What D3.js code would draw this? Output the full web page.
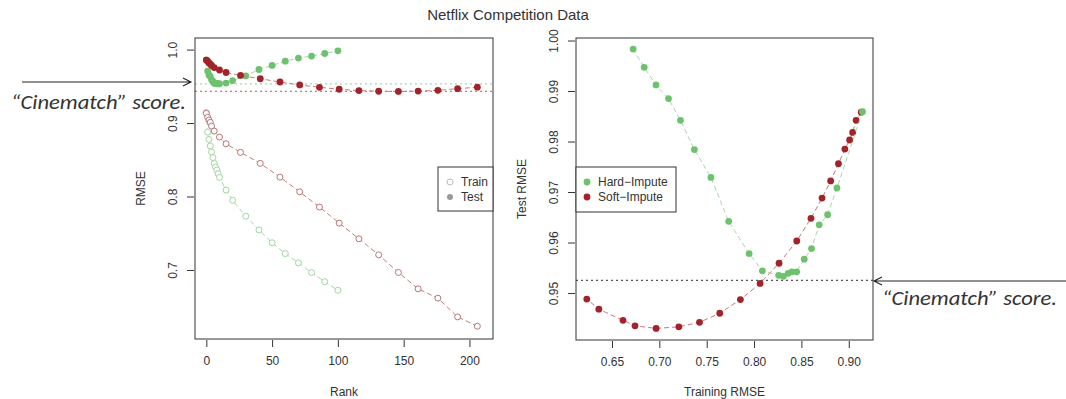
<!DOCTYPE html>
<html>
<head>
<meta charset="utf-8">
<script src="https://cdn.jsdelivr.net/npm/d3@7"></script>
<style>
  body { margin: 0; background: #fff; }
  svg text { font-family: "Liberation Sans", Arial, sans-serif; fill: #333; }
</style>
</head>
<body>
<div id="chart"></div>
<script>
// Hard-Impute (green) and Soft-Impute (red): rank, training RMSE, test RMSE
const hardRank = [0, 1, 2, 3, 4, 5, 6, 7, 8, 9, 10, 15, 20, 30, 40, 50, 60, 70, 80, 90, 100];
const hardTrain = [0.9145, 0.8875, 0.8777, 0.8688, 0.8607, 0.853, 0.845, 0.840, 0.836, 0.831, 0.826,
    0.8088, 0.7948, 0.7732, 0.7545, 0.737, 0.7223, 0.7097, 0.6965, 0.684, 0.6723];
const hardTest = [0.9859, 0.9708, 0.9655, 0.9635, 0.9588, 0.9567, 0.9542, 0.9542, 0.9539, 0.9533, 0.9535,
    0.9544, 0.9578, 0.9642, 0.9729, 0.9784, 0.9842, 0.9885, 0.9912, 0.9947, 0.9983];

const softRank = [0, 1, 2, 3, 4, 6, 10, 15, 26, 41, 56, 71, 86, 101, 116, 131, 146, 161, 176, 191, 206];
const softTrain = [0.9132, 0.9078, 0.9041, 0.9009, 0.8959, 0.8891, 0.8809, 0.8718, 0.8601, 0.8451, 0.8264,
    0.8064, 0.7856, 0.7638, 0.7424, 0.7206, 0.6966, 0.6743, 0.6616, 0.6361, 0.6234];
const softTest = [0.9858, 0.9842, 0.9818, 0.9803, 0.9785, 0.9756, 0.9722, 0.9688, 0.9648, 0.9603, 0.9559,
    0.9519, 0.9487, 0.946, 0.9442, 0.9433, 0.943, 0.9435, 0.9446, 0.9468, 0.9488];

const cinematch = 0.9525;

const leftXTicks = [0, 50, 100, 150, 200];
const leftYTicks = [0.7, 0.8, 0.9, 1.0];
const rightXTicks = [0.65, 0.70, 0.75, 0.80, 0.85, 0.90];
const rightYTicks = [0.95, 0.96, 0.97, 0.98, 0.99, 1.00];

const col = {
    hard: "#6ec26e", soft: "#a3232a",
    hardOpen: "#a3d6a3", softOpen: "#b87676",
    hardLine: "#a8d8a8", softLine: "#c47c7c"
};

const svg = d3.select("#chart").append("svg")
    .attr("width", 1066)
    .attr("height", 399);

svg.append("text")
    .attr("x", 508).attr("y", 20)
    .attr("text-anchor", "middle")
    .style("font-size", "15px")
    .text("Netflix Competition Data");

function panel(box, xDomain, yDomain, xTicks, yTicks, xFmt, yFmt, xLabel, yLabel) {
    const x = d3.scaleLinear().domain(xDomain).range([box.left, box.right]);
    const y = d3.scaleLinear().domain(yDomain).range([box.bottom, box.top]);
    const g = svg.append("g");

    const xAxis = g.append("g")
        .attr("transform", `translate(0,${box.bottom + 1})`)
        .call(d3.axisBottom(x).tickValues(xTicks).tickFormat(xFmt).tickSize(7).tickPadding(9));
    xAxis.select(".domain").remove();
    xAxis.selectAll("text").style("font-size", "12px").style("font-family", null).attr("fill", "#333");
    xAxis.selectAll("line").attr("stroke", "#333");

    const yAxis = g.append("g")
        .attr("transform", `translate(${box.left - 1},0)`)
        .call(d3.axisLeft(y).tickValues(yTicks).tickFormat(yFmt).tickSize(7));
    yAxis.select(".domain").remove();
    yAxis.selectAll("line").attr("stroke", "#333");
    yAxis.selectAll("text")
        .attr("x", null).attr("dy", null)
        .attr("transform", "translate(-21,0) rotate(-90)")
        .attr("text-anchor", "middle")
        .attr("dominant-baseline", "central")
        .attr("fill", "#333")
        .style("font-family", null)
        .style("font-size", "12px");

    svg.append("text")
        .attr("x", (box.left + box.right) / 2).attr("y", 396)
        .attr("text-anchor", "middle")
        .style("font-size", "12px")
        .text(xLabel);
    svg.append("text")
        .attr("transform", `translate(${box.left - 50},${(box.top + box.bottom) / 2}) rotate(-90)`)
        .attr("text-anchor", "middle")
        .style("font-size", "12px")
        .text(yLabel);

    const plot = g.append("g");
    g.append("rect")
        .attr("x", box.left).attr("y", box.top)
        .attr("width", box.right - box.left).attr("height", box.bottom - box.top)
        .attr("fill", "none").attr("stroke", "#333").attr("stroke-width", 1);
    return { x, y, plot, g };
}

function series(p, xs, ys, lineColor, pointColor, open) {
    const pts = xs.map((v, i) => [v, ys[i]]);
    p.plot.append("path")
        .datum(pts)
        .attr("fill", "none")
        .attr("stroke", lineColor)
        .attr("stroke-width", 1)
        .attr("stroke-dasharray", "5,3")
        .attr("d", d3.line().x(d => p.x(d[0])).y(d => p.y(d[1])));
    p.plot.selectAll(null)
        .data(pts)
        .enter()
        .append("circle")
        .attr("cx", d => p.x(d[0]))
        .attr("cy", d => p.y(d[1]))
        .attr("r", open ? 3 : 3.4)
        .attr("fill", open ? "#fff" : pointColor)
        .attr("stroke", open ? pointColor : "none")
        .attr("stroke-width", 1);
}

// Left panel: RMSE vs rank
const left = panel({ left: 195, right: 493, top: 38, bottom: 339 },
    [-8.6, 217.9], [0.606, 1.0158], leftXTicks, leftYTicks,
    d3.format("d"), d3.format(".1f"), "Rank", "RMSE");

[[d3.min(hardTest), col.hardLine], [d3.min(softTest), col.softLine]].forEach(([v, c]) => {
    left.plot.append("line")
        .attr("x1", 195).attr("x2", 493)
        .attr("y1", left.y(v)).attr("y2", left.y(v))
        .attr("stroke", c).attr("stroke-width", 1.2)
        .attr("stroke-dasharray", "2,3");
});

series(left, hardRank, hardTrain, col.hardLine, col.hardOpen, true);
series(left, softRank, softTrain, col.softLine, col.softOpen, true);
series(left, hardRank, hardTest, col.hardLine, col.hard, false);
series(left, softRank, softTest, col.softLine, col.soft, false);

const leftLegend = left.g.append("g");
leftLegend.append("rect")
    .attr("x", 438).attr("y", 167).attr("width", 55).attr("height", 44)
    .attr("fill", "#fff").attr("stroke", "#333");
leftLegend.append("circle").attr("cx", 450).attr("cy", 182).attr("r", 3)
    .attr("fill", "none").attr("stroke", "#bbb");
leftLegend.append("circle").attr("cx", 450).attr("cy", 197).attr("r", 3).attr("fill", "#999");
leftLegend.append("text").attr("x", 461).attr("y", 182).attr("dominant-baseline", "central")
    .style("font-size", "12px").text("Train");
leftLegend.append("text").attr("x", 461).attr("y", 197).attr("dominant-baseline", "central")
    .style("font-size", "12px").text("Test");

// Right panel: test RMSE vs training RMSE
const right = panel({ left: 576, right: 873, top: 38, bottom: 340 },
    [0.612, 0.9256], [0.9407, 1.0005], rightXTicks, rightYTicks,
    d3.format(".2f"), d3.format(".2f"), "Training RMSE", "Test RMSE");

right.plot.append("line")
    .attr("x1", 576).attr("x2", 873)
    .attr("y1", right.y(cinematch)).attr("y2", right.y(cinematch))
    .attr("stroke", "#555").attr("stroke-width", 1.3)
    .attr("stroke-dasharray", "2,3");

series(right, softTrain, softTest, col.softLine, col.soft, false);
series(right, hardTrain, hardTest, col.hardLine, col.hard, false);

const rightLegend = right.g.append("g");
rightLegend.append("rect")
    .attr("x", 576).attr("y", 167).attr("width", 100).attr("height", 45)
    .attr("fill", "#fff").attr("stroke", "#333");
rightLegend.append("circle").attr("cx", 587).attr("cy", 182).attr("r", 3.4).attr("fill", col.hard);
rightLegend.append("circle").attr("cx", 587).attr("cy", 197).attr("r", 3.4).attr("fill", col.soft);
rightLegend.append("text").attr("x", 598).attr("y", 182).attr("dominant-baseline", "central")
    .style("font-size", "12px").text("Hard\u2212Impute");
rightLegend.append("text").attr("x", 598).attr("y", 197).attr("dominant-baseline", "central")
    .style("font-size", "12px").text("Soft\u2212Impute");

// "Cinematch" annotations
function arrow(x1, x2, yy) {
    const dir = x2 > x1 ? -1 : 1;
    svg.append("path")
        .attr("d", `M${x1},${yy}L${x2},${yy}M${x2 + dir * 8},${yy - 4}L${x2},${yy}L${x2 + dir * 8},${yy + 4}`)
        .attr("fill", "none").attr("stroke", "#222").attr("stroke-width", 1.1);
}
arrow(22, 191, 82);
arrow(1066, 874, 281);

[[11, 109], [882, 305]].forEach(([tx, ty]) => {
    svg.append("text")
        .attr("x", tx).attr("y", ty)
        .attr("textLength", 175)
        .attr("lengthAdjust", "spacingAndGlyphs")
        .style("font-family", "Carlito, 'Liberation Sans', Arial, sans-serif")
        .style("font-size", "20px").style("font-style", "italic").attr("fill", "#111")
        .text("\u201cCinematch\u201d score.");
});
</script>
</body>
</html>
